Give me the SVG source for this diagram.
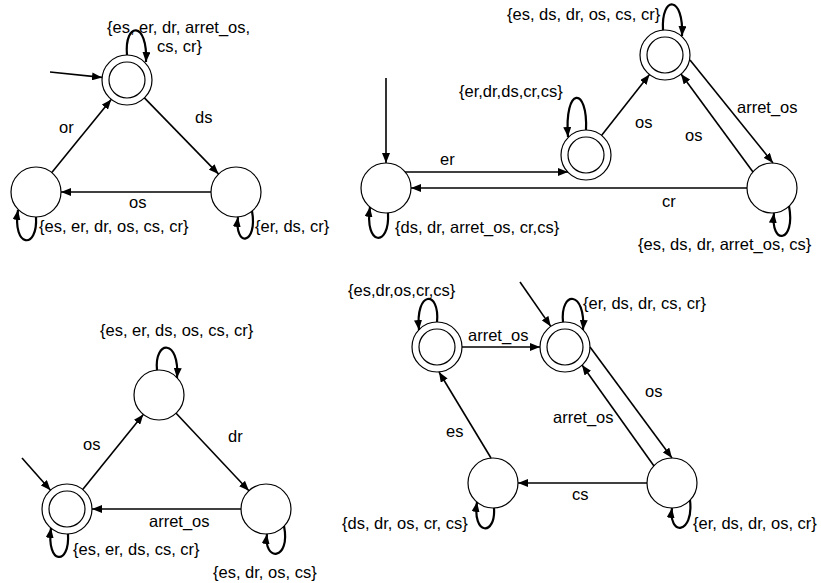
<svg xmlns="http://www.w3.org/2000/svg" width="821" height="583" viewBox="0 0 821 583">
<defs>
<style>
.st{fill:#fff;stroke:#000;stroke-width:1.2}
.in{fill:none;stroke:#000;stroke-width:1.2}
.e{fill:none;stroke:#000;stroke-width:1.6;marker-end:url(#ah)}
.lp{fill:none;stroke:#000;stroke-width:2.2;marker-end:url(#ah)}
text{font-family:"Liberation Sans",Arial,sans-serif;font-size:16.5px;fill:#000}
</style>
<marker id="ah" viewBox="0 0 10 8" refX="10" refY="4" markerWidth="10" markerHeight="8" markerUnits="userSpaceOnUse" orient="auto"><path d="M0,0 L10,4 L0,8 z" fill="#000"/></marker>
</defs>
<rect width="821" height="583" fill="#fff"/>

<!-- Q1 -->
<g id="q1_top"><circle class="st" cx="127" cy="80" r="25"/><circle class="in" cx="127" cy="80" r="18"/></g>
<g id="q1_left"><circle class="st" cx="36" cy="192" r="25"/></g>
<g id="q1_right"><circle class="st" cx="236" cy="192" r="25"/></g>

<!-- Q2 -->
<g id="q2_left"><circle class="st" cx="386" cy="188" r="25"/></g>
<g id="q2_mid"><circle class="st" cx="586" cy="155" r="25"/><circle class="in" cx="586" cy="155" r="18"/></g>
<g id="q2_top"><circle class="st" cx="665" cy="55" r="25"/><circle class="in" cx="665" cy="55" r="18"/></g>
<g id="q2_right"><circle class="st" cx="772" cy="188" r="25"/></g>

<!-- Q3 -->
<g id="q3_top"><circle class="st" cx="159" cy="395" r="25"/></g>
<g id="q3_left"><circle class="st" cx="67" cy="509" r="25"/><circle class="in" cx="67" cy="509" r="18"/></g>
<g id="q3_right"><circle class="st" cx="266" cy="509" r="25"/></g>

<!-- Q4 -->
<g id="q4_tl"><circle class="st" cx="437" cy="347" r="25"/><circle class="in" cx="437" cy="347" r="18"/></g>
<g id="q4_tr"><circle class="st" cx="565" cy="347" r="25"/><circle class="in" cx="565" cy="347" r="18"/></g>
<g id="q4_bl"><circle class="st" cx="493" cy="483" r="25"/></g>
<g id="q4_br"><circle class="st" cx="672" cy="483" r="25"/></g>

<g id="connectors">
<!-- Q1 -->
<line class="e" x1="50" y1="72" x2="102" y2="77.4"/>
<line class="e" x1="51.8" y1="172.6" x2="111.2" y2="99.4"/>
<line class="e" x1="144.4" y1="97.9" x2="218.6" y2="174.1"/>
<line class="e" x1="211" y1="192" x2="61" y2="192"/>
<path class="lp" d="M127,55 C124,22 148,20 146,62"/>
<path class="lp" d="M36,217 C38,250 12,248 18,210"/>
<path class="lp" d="M252,211 C258,245 234,248 238,217"/>
<!-- Q2 -->
<line class="e" x1="386" y1="78" x2="386" y2="163"/>
<line class="e" x1="405" y1="172" x2="568" y2="172"/>
<line class="e" x1="747" y1="188" x2="411" y2="188"/>
<line class="e" x1="601.5" y1="135.4" x2="649.5" y2="74.6"/>
<line class="e" x1="690" y1="60" x2="773" y2="163"/>
<line class="e" x1="753" y1="172" x2="681" y2="74"/>
<path class="lp" d="M586,130 C588,86 564,86 568,137"/>
<path class="lp" d="M663,30 C661,-5 684,-5 682,36"/>
<path class="lp" d="M388,213 C390,248 364,246 370,207"/>
<path class="lp" d="M789,206 C796,243 770,246 774,213"/>
<!-- Q3 -->
<line class="e" x1="22" y1="458" x2="50.5" y2="490.2"/>
<line class="e" x1="82.7" y1="489.5" x2="143.3" y2="414.5"/>
<line class="e" x1="176.1" y1="413.2" x2="248.9" y2="490.8"/>
<line class="e" x1="241" y1="509" x2="92" y2="509"/>
<path class="lp" d="M157,370 C154,340 180,338 177,378"/>
<path class="lp" d="M68,534 C70,566 46,565 51,528"/>
<path class="lp" d="M284,526 C291,561 263,562 267,534"/>
<!-- Q4 -->
<line class="e" x1="520" y1="282" x2="550.8" y2="326.4"/>
<line class="e" x1="462" y1="347" x2="540" y2="347"/>
<line class="e" x1="491" y1="458" x2="439" y2="372"/>
<line class="e" x1="590" y1="347" x2="672" y2="458"/>
<line class="e" x1="654" y1="466" x2="582" y2="365"/>
<line class="e" x1="647" y1="483" x2="518" y2="483"/>
<path class="lp" d="M437,322 C440,290 415,290 419,330"/>
<path class="lp" d="M563,322 C560,290 586,290 583,330"/>
<path class="lp" d="M494,508 C496,536 472,536 477,502"/>
<path class="lp" d="M690,500 C694,535 668,536 672,508"/>
</g>

<g id="labels">
<!-- Q1 -->
<text x="107" y="33">{es, er, dr, arret_os,</text>
<text x="157" y="52">cs, cr}</text>
<text x="59" y="133">or</text>
<text x="195" y="123">ds</text>
<text x="129" y="208">os</text>
<text x="39" y="232">{es, er, dr, os, cs, cr}</text>
<text x="255" y="232">{er, ds, cr}</text>
<!-- Q2 -->
<text x="507" y="20">{es, ds, dr, os, cs, cr}</text>
<text x="459" y="97">{er,dr,ds,cr,cs}</text>
<text x="635" y="128">os</text>
<text x="737" y="113">arret_os</text>
<text x="685" y="141">os</text>
<text x="440" y="165">er</text>
<text x="662" y="207">cr</text>
<text x="395" y="233">{ds, dr, arret_os, cr,cs}</text>
<text x="638" y="250">{es, ds, dr, arret_os, cs}</text>
<!-- Q3 -->
<text x="100" y="336">{es, er, ds, os, cs, cr}</text>
<text x="83" y="450">os</text>
<text x="228" y="442">dr</text>
<text x="149" y="527">arret_os</text>
<text x="73" y="555">{es, er, ds, cs, cr}</text>
<text x="213" y="578">{es, dr, os, cs}</text>
<!-- Q4 -->
<text x="348" y="296">{es,dr,os,cr,cs}</text>
<text x="583" y="309">{er, ds, dr, cs, cr}</text>
<text x="468" y="341">arret_os</text>
<text x="645" y="397">os</text>
<text x="446" y="437">es</text>
<text x="553" y="423">arret_os</text>
<text x="572" y="500">cs</text>
<text x="342" y="529">{ds, dr, os, cr, cs}</text>
<text x="693" y="529">{er, ds, dr, os, cr}</text>
</g>
</svg>
